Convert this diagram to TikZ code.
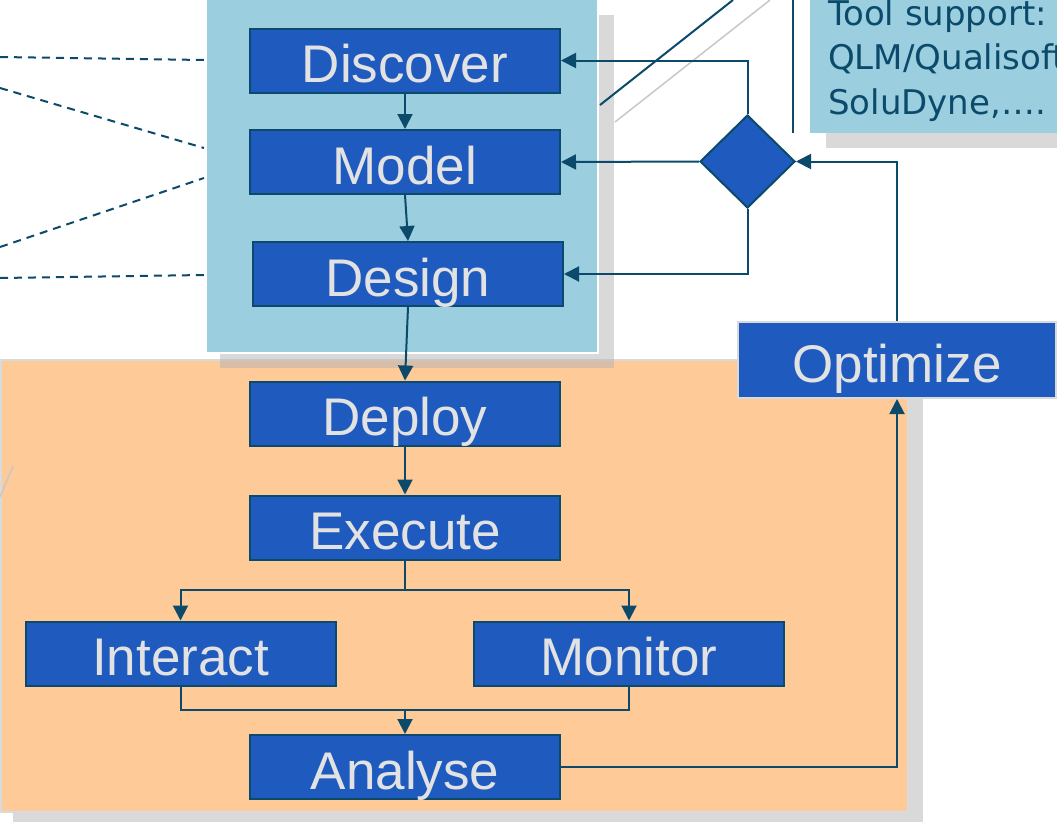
\documentclass[tikz,border=0pt]{standalone}
\usepackage{fontspec}
\setmainfont{Liberation Sans}
\newfontfamily\notefont{DejaVu Sans}
\usetikzlibrary{arrows.meta,shapes.geometric}

\definecolor{panelblue}{HTML}{9BCFDF}
\definecolor{panelorange}{HTML}{FDCA98}
\definecolor{boxblue}{HTML}{1F5BBE}
\definecolor{linec}{HTML}{0B4A6B}
\definecolor{boxtext}{HTML}{E2E2E2}
\definecolor{shadegray}{HTML}{B4B4B4}
\definecolor{faintgray}{HTML}{C8C8C8}
\definecolor{rim}{HTML}{DADADA}

\tikzset{
  stagebox/.style={draw=linec, line width=2pt, fill=boxblue, text=boxtext,
    font=\fontsize{53}{60}\selectfont, minimum width=310pt, minimum height=64pt,
    inner sep=0pt, text height=46pt, text depth=2pt},
  flow/.style={draw=linec, line width=2pt, -{Triangle[width=15pt,length=15pt]}},
  wire/.style={draw=linec, line width=2pt},
  link/.style={draw=linec, line width=2pt, dash pattern=on 8pt off 6pt},
  shadowbox/.style={fill=shadegray, fill opacity=0.5, draw=none},
  notetext/.style={anchor=base west, inner sep=0pt, text=linec,
    font=\notefont\fontsize{34}{40}\selectfont},
}

\begin{document}
\begin{tikzpicture}[x=1pt,y=-1pt]
\useasboundingbox (0,0) rectangle (1057,822);
\clip (0,0) rectangle (1057,822);
\fill[white] (0,0) rectangle (1057,822);

% execution phase panel with its shadow
\fill[shadowbox] (13,375) rectangle (923,822);
\node[fill=panelorange, draw=rim, line width=1.5pt, minimum width=907pt,
  minimum height=452pt, inner sep=0pt, anchor=north west] (runphase) at (0,359) {};

% design phase panel with its shadow
\fill[shadowbox] (220,15) rectangle (614,368);
\node[fill=panelblue, draw=white, line width=1.5pt, minimum width=392pt,
  minimum height=356pt, inner sep=0pt, anchor=north west] (buildphase) at (205,-4) {};

% stray strokes
\draw[linec, line width=2pt] (600,105) -- (733,0);
\draw[faintgray, line width=1.5pt] (615,122) -- (770,0);
\draw[faintgray, line width=1.5pt] (0,497) -- (13,466);
\draw[linec, line width=2pt] (793,0) -- (793,133);

% tool support note
\fill[shadowbox] (826,133) rectangle (1070,148);
\node[fill=panelblue, minimum width=260pt, minimum height=143pt, inner sep=0pt,
  anchor=south west] (toolnote) at (810,133) {};
\node[notetext] (tn1) at (828,25) {Tool support:};
\node[notetext] (tn2) at (828,69.5) {QLM/Qualisoft};
\node[notetext] (tn3) at (828,114) {SoluDyne,….};

% dashed references from the left
\coordinate (la) at (0,57);   \coordinate (ra) at (204,60);
\coordinate (lb) at (0,88);   \coordinate (rb) at (204,148);
\coordinate (lc) at (0,247);  \coordinate (rc) at (204,178);
\coordinate (ld) at (0,278);  \coordinate (rd) at (204,275);
\draw[link] (la) -- (ra);
\draw[link] (lb) -- (rb);
\draw[link] (lc) -- (rc);
\draw[link] (ld) -- (rd);

% stages
\node[stagebox] (discover) at (405,60.5) {Discover};
\node[stagebox] (model)    at (405,162)  {Model};
\node[stagebox] (design)   at (408,274)  {Design};
\node[stagebox] (deploy)   at (405,413.5) {Deploy};
\node[stagebox] (execute)  at (405,527.5) {Execute};
\node[stagebox] (interact) at (180.5,653.5) {Interact};
\node[stagebox] (monitor)  at (629,653.5) {Monitor};
\node[stagebox] (analyse)  at (405,767) {Analyse};
\node[stagebox, draw=rim, minimum width=318pt, minimum height=76pt]
  (optimize) at (897,360) {Optimize};
\node[diamond, draw=linec, line width=2pt, fill=boxblue, minimum width=95pt,
  minimum height=93pt, inner sep=0pt] (decide) at (747.5,161.5) {};

% main flow
\draw[flow] (discover.south) -- (model.north);
\draw[flow] (model.south) -- (design.north);
\draw[flow] (design.south) -- (deploy.north);
\draw[flow] (deploy.south) -- (execute.north);
\coordinate (split) at (405,590);
\coordinate (merge) at (405,710);
\draw[wire] (execute.south) -- (split);
\draw[flow] (split) -| (interact.north);
\draw[flow] (split) -| (monitor.north);
\draw[wire] (interact.south) |- (merge) -| (monitor.south);
\draw[flow] (merge) -- (analyse.north);

% feedback loop
\draw[flow] (analyse.east) -| (optimize.south);
\draw[flow] (optimize.north) |- (decide.east);
\draw[flow] (decide.north) |- (discover.east);
\draw[flow] (decide.west) -- (model.east);
\draw[flow] (decide.south) |- (design.east);
\end{tikzpicture}
\end{document}
